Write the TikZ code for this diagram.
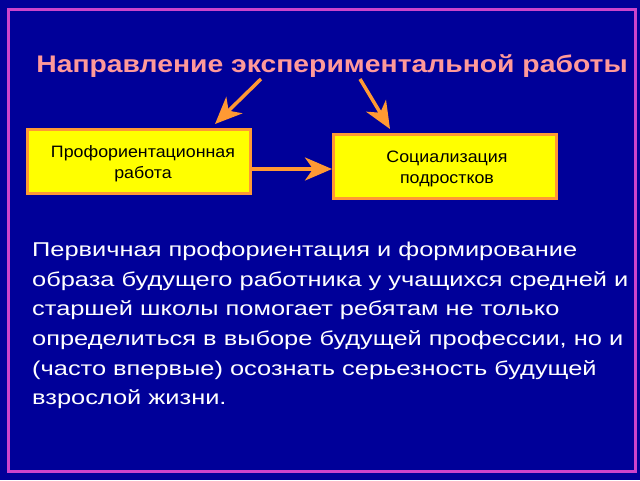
\documentclass[tikz,border=0pt]{standalone}
\usepackage{fontspec}
\setmainfont{Liberation Sans}
\newfontfamily\titlefont[FakeStretch=1.18]{Liberation Sans}
\newfontfamily\parafont[FakeStretch=1.27]{Liberation Sans}
\newfontfamily\boxfont[FakeStretch=1.08]{Liberation Sans}
\usetikzlibrary{arrows.meta}
\definecolor{bgblue}{HTML}{000099}
\definecolor{frame}{HTML}{CC44CC}
\definecolor{titlepink}{HTML}{FF9999}
\definecolor{arrorange}{HTML}{FF9933}
\definecolor{boxyellow}{HTML}{FFFF00}
\tikzset{
  box/.style={draw=arrorange, line width=3pt, fill=boxyellow, minimum width=223pt, minimum height=64pt, inner sep=0pt},
  boxtext/.style={align=center, font=\boxfont\fontsize{16.5}{21}\selectfont, inner sep=0pt},
  oarrow/.style={draw=arrorange, line width=3.5pt, -{Stealth[length=27pt,width=23pt,inset=8pt]}}
}
\begin{document}
\begin{tikzpicture}[x=1pt,y=-1pt]
\useasboundingbox (0,0) rectangle (640,480);
\fill[bgblue] (0,0) rectangle (640,480);
\draw[frame, line width=3pt] (8,9) rectangle (635,471);
\node[font=\titlefont\bfseries\fontsize{24}{28}\selectfont, text=titlepink] (title) at (332,66) {Направление экспериментальной работы};
\node[box] (left) at (139,161.5) {};
\node[box] (right) at (445,166.5) {};
\node[boxtext] (lt) at (143,164) {Профориентационная\\работа};
\node[boxtext] (rt) at (447,169) {Социализация\\подростков};
\coordinate (a1s) at (261,79);
\coordinate (a1e) at (215,124);
\coordinate (a2s) at (360,79);
\coordinate (a2e) at (390,129);
\draw[oarrow] (a1s) -- (a1e);
\draw[oarrow] (a2s) -- (a2e);
\draw[oarrow] (left.east |- 0,169) -- (right.west |- 0,169);
\node[anchor=north west, align=left, text=white, font=\parafont\fontsize{20}{29.6}\selectfont, inner sep=0pt] (para) at (32,242) {Первичная профориентация и формирование\\образа будущего работника у учащихся средней и\\старшей школы помогает ребятам не только\\определиться в выборе будущей профессии, но и\\(часто впервые) осознать серьезность будущей\\взрослой жизни.};
\end{tikzpicture}
\end{document}
